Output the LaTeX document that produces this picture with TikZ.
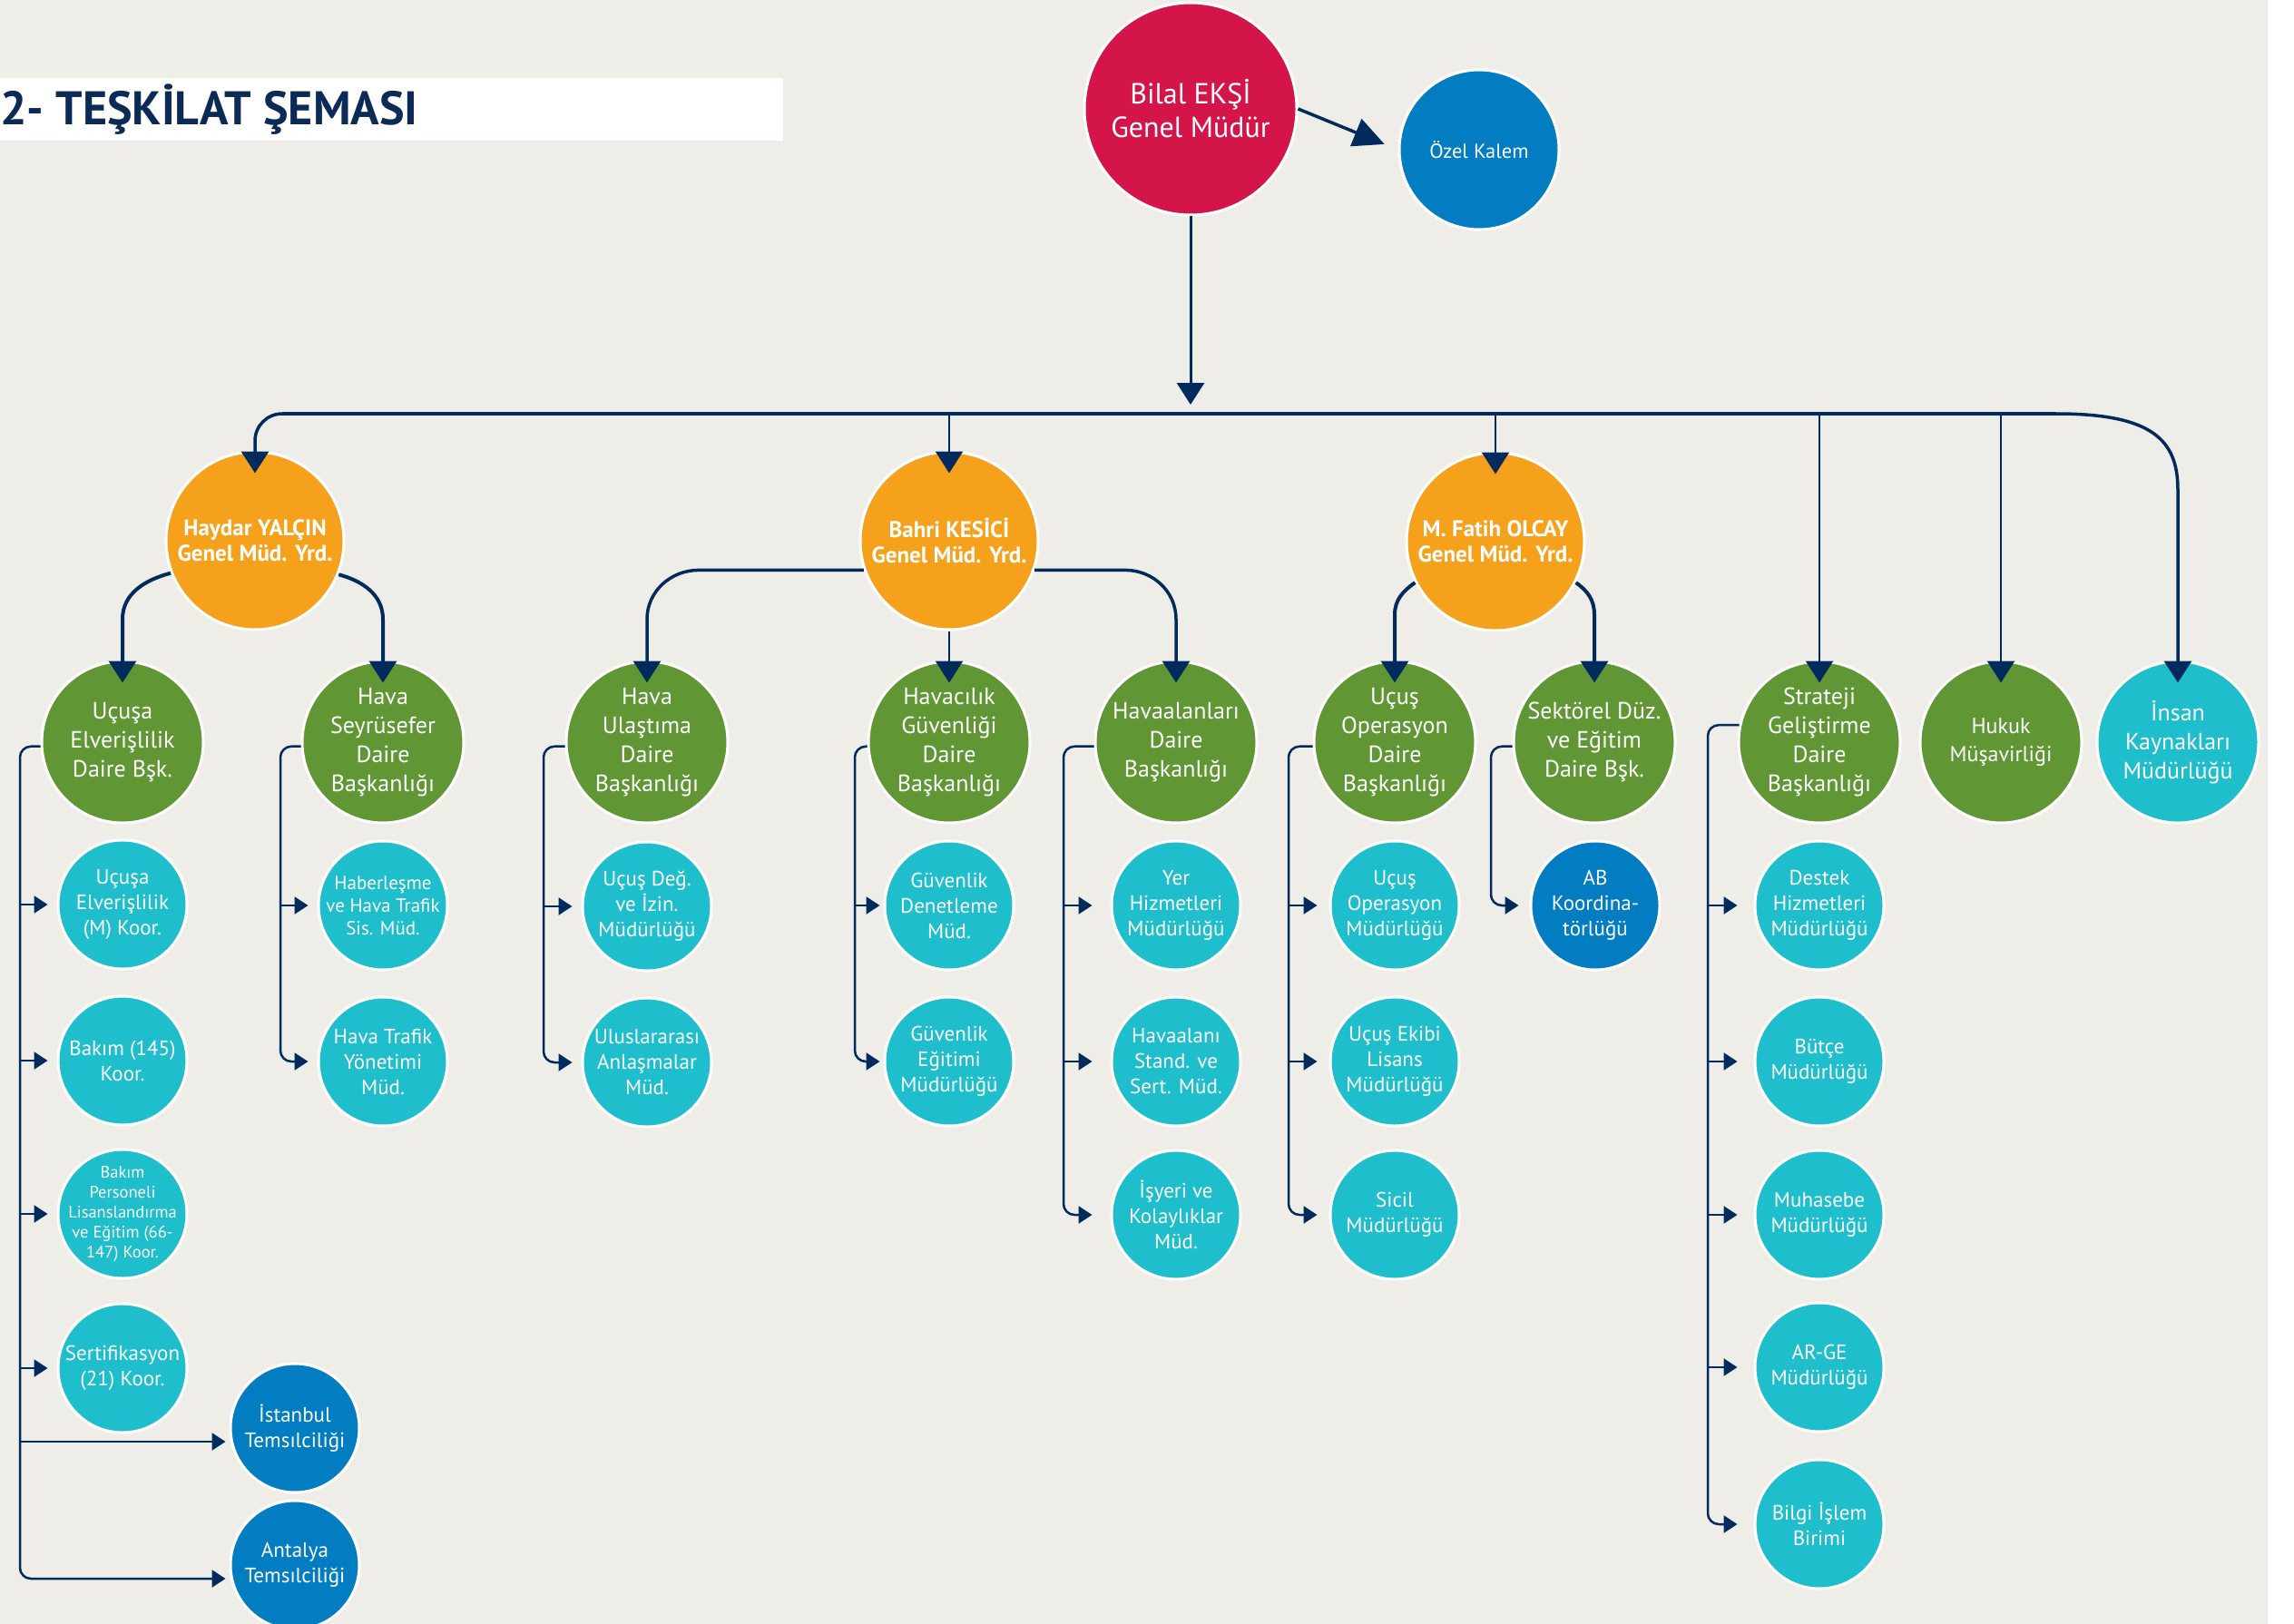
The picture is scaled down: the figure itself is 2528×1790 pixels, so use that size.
\documentclass[tikz,border=0pt]{standalone}
\usepackage{fontspec}
\setmainfont{PT Sans}
\usetikzlibrary{arrows.meta,calc}
\definecolor{bgc}{RGB}{238,237,232}
\definecolor{navy}{RGB}{0,43,92}
\definecolor{redc}{RGB}{211,21,74}
\definecolor{bluec}{RGB}{3,125,194}
\definecolor{orangec}{RGB}{245,161,28}
\definecolor{greenc}{RGB}{96,151,52}
\definecolor{cyanc}{RGB}{31,190,204}
\definecolor{titlec}{RGB}{12,42,86}
\newcommand\orgcirc[6]{%
  \node[#2] (#1) at (#3,#4) {};
  \node[#5] (#1-t) at (#1) {#6};}
\begin{document}
\begin{tikzpicture}[x=1pt,y=-1pt,
  circ/.style={circle, draw=white, line width=3pt, inner sep=0pt, minimum size=#1},
  sBig/.style={circ=234, fill=redc},
  sOzel/.style={circ=176, fill=bluec},
  sMid/.style={circ=196, fill=orangec},
  sDept/.style={circ=178, fill=greenc},
  sDeptC/.style={circ=178, fill=cyanc},
  sUnit/.style={circ=142, fill=cyanc},
  sUnitB/.style={circ=142, fill=bluec},
  txt/.style={text=white, align=center, inner sep=0pt},
  tBig/.style={txt, font=\fontsize{32}{37}\selectfont},
  tOzel/.style={txt, font=\fontsize{22.5}{28}\selectfont},
  tMid/.style={txt, font=\bfseries\fontsize{25}{28}\selectfont},
  tDept/.style={txt, font=\fontsize{26}{32}\selectfont},
  tDeptS/.style={txt, font=\fontsize{24}{31}\selectfont},
  tUnit/.style={txt, font=\fontsize{23}{28}\selectfont},
  tSmall/.style={txt, font=\fontsize{21}{25}\selectfont},
  tTiny/.style={txt, font=\fontsize{18.5}{22}\selectfont},
  barr/.style={draw=navy, line width=#1, -{Triangle[length=24pt,width=30pt]}},
  barr/.default=2.5pt,
  carr/.style={draw=navy, line width=2.5pt, -{Triangle[length=15pt,width=19pt]}},
  trunk/.style={carr, rounded corners=12pt}
]
\useasboundingbox (0,0) rectangle (2528,1790);
\fill[white] (0,0) rectangle (2528,1790);
\fill[bgc] (0,0) rectangle (2499,1790);
\fill[white] (0,86) rectangle (863,155);
\node[anchor=base west, inner sep=0pt, text=titlec, font=\bfseries\fontsize{52}{52}\selectfont] (title) at (0,138) {2- TEŞKİLAT ŞEMASI};

% top
\orgcirc{bg}{sBig}{1312}{120}{tBig}{Bilal EKŞİ\\Genel Müdür}
\orgcirc{oz}{sOzel}{1630}{165}{tOzel}{Özel Kalem}
% deputies
\orgcirc{hy}{sMid}{281}{596}{tMid}{Haydar YALÇIN\\Genel Müd. Yrd.}
\orgcirc{bk}{sMid}{1046}{596}{tMid}{Bahri KESİCİ\\Genel Müd. Yrd.}
\orgcirc{fo}{sMid}{1648}{597}{tMid}{M. Fatih OLCAY\\Genel Müd. Yrd.}
% departments
\orgcirc{ue}{sDept}{135}{818}{tDept}{Uçuşa\\Elverişlilik\\Daire Bşk.}
\orgcirc{hs}{sDept}{422}{818}{tDept}{Hava\\Seyrüsefer\\Daire\\Başkanlığı}
\orgcirc{hu}{sDept}{713}{818}{tDept}{Hava\\Ulaştıma\\Daire\\Başkanlığı}
\orgcirc{hg}{sDept}{1046}{818}{tDept}{Havacılık\\Güvenliği\\Daire\\Başkanlığı}
\orgcirc{ha}{sDept}{1296}{818}{tDept}{Havaalanları\\Daire\\Başkanlığı}
\orgcirc{uo}{sDept}{1537}{818}{tDept}{Uçuş\\Operasyon\\Daire\\Başkanlığı}
\orgcirc{sd}{sDept}{1757}{818}{tDept}{Sektörel Düz.\\ve Eğitim\\Daire Bşk.}
\orgcirc{sg}{sDept}{2005}{818}{tDept}{Strateji\\Geliştirme\\Daire\\Başkanlığı}
\orgcirc{hk}{sDept}{2205}{818}{tDeptS}{Hukuk\\Müşavirliği}
\orgcirc{ik}{sDeptC}{2400}{818}{tDept}{İnsan\\Kaynakları\\Müdürlüğü}
% column A
\orgcirc{a1}{sUnit}{135}{997}{tUnit}{Uçuşa\\Elverişlilik\\(M) Koor.}
\orgcirc{a2}{sUnit}{135}{1169}{tUnit}{Bakım (145)\\Koor.}
\orgcirc{a3}{sUnit}{135}{1338}{tTiny}{Bakım\\Personeli\\Lisanslandırma\\ve Eğitim (66-\\147) Koor.}
\orgcirc{a4}{sUnit}{135}{1508}{tUnit}{Sertifikasyon\\(21) Koor.}
\orgcirc{ist}{sUnitB}{325}{1574}{tUnit}{İstanbul\\Temsılciliği}
\orgcirc{an}{sUnitB}{325}{1725}{tUnit}{Antalya\\Temsılciliği}
% column B
\orgcirc{b1}{sUnit}{422}{998}{tSmall}{Haberleşme\\ve Hava Trafik\\Sis. Müd.}
\orgcirc{b2}{sUnit}{422}{1170}{tUnit}{Hava Trafik\\Yönetimi\\Müd.}
% column C
\orgcirc{c1}{sUnit}{713}{999}{tUnit}{Uçuş Değ.\\ve İzin.\\Müdürlüğü}
\orgcirc{c2}{sUnit}{713}{1171}{tUnit}{Uluslararası\\Anlaşmalar\\Müd.}
% column D
\orgcirc{d1}{sUnit}{1046}{998}{tUnit}{Güvenlik\\Denetleme\\Müd.}
\orgcirc{d2}{sUnit}{1046}{1170}{tUnit}{Güvenlik\\Eğitimi\\Müdürlüğü}
% column E
\orgcirc{e1}{sUnit}{1296}{998}{tUnit}{Yer\\Hizmetleri\\Müdürlüğü}
\orgcirc{e2}{sUnit}{1296}{1170}{tUnit}{Havaalanı\\Stand. ve\\Sert. Müd.}
\orgcirc{e3}{sUnit}{1296}{1339}{tUnit}{İşyeri ve\\Kolaylıklar\\Müd.}
% column F
\orgcirc{f1}{sUnit}{1537}{998}{tUnit}{Uçuş\\Operasyon\\Müdürlüğü}
\orgcirc{f2}{sUnit}{1537}{1170}{tUnit}{Uçuş Ekibi\\Lisans\\Müdürlüğü}
\orgcirc{f3}{sUnit}{1537}{1339}{tUnit}{Sicil\\Müdürlüğü}
% column G
\orgcirc{g1}{sUnitB}{1758}{998}{tUnit}{AB\\Koordina-\\törlüğü}
% column H
\orgcirc{h1}{sUnit}{2005}{998}{tUnit}{Destek\\Hizmetleri\\Müdürlüğü}
\orgcirc{h2}{sUnit}{2005}{1170}{tUnit}{Bütçe\\Müdürlüğü}
\orgcirc{h3}{sUnit}{2005}{1339}{tUnit}{Muhasebe\\Müdürlüğü}
\orgcirc{h4}{sUnit}{2005}{1507}{tUnit}{AR-GE\\Müdürlüğü}
\orgcirc{h5}{sUnit}{2005}{1680}{tUnit}{Bilgi İşlem\\Birimi}

% ---------- connectors ----------
\coordinate (bus) at (1312,456);
\coordinate (busl) at (311,456);
\coordinate (busr) at (2266,456);
\draw[barr=3.5pt, -{Triangle[length=34pt,width=32pt]}, shorten >=16pt] (bg.east) -- (oz.west);
\draw[barr=3pt] (bg.south) -- ([yshift=10pt]bus);
\draw[navy, line width=4.5pt] (busl) -- (busr);
\draw[barr=3.5pt] (busl) to[out=180,in=90] (281,486) -- ($(hy.north)+(0,25)$);
\draw[barr=3.5pt] (busr) .. controls (2372,456) and (2400,485) .. (2400,540) -- ($(ik.north)+(0,25)$);
\draw[barr] (bus -| bk) -- ($(bk.north)+(0,25)$);
\draw[barr] (bus -| fo) -- ($(fo.north)+(0,25)$);
\draw[barr] (bus -| sg) -- ($(sg.north)+(0,25)$);
\draw[barr] (bus -| hk) -- ($(hk.north)+(0,25)$);
% deputies to departments
\draw[barr=4pt] (hy.201) to[out=195,in=90] ($(ue.north)+(0,-45)$) -- ($(ue.north)+(0,25)$);
\draw[barr=4pt] (hy.338) to[out=-15,in=90] ($(hs.north)+(0,-45)$) -- ($(hs.north)+(0,25)$);
\draw[barr=3.5pt] (bk.199) -- (bk.199 -| 770,0) to[out=180,in=90] ($(hu.north)+(0,-45)$) -- ($(hu.north)+(0,25)$);
\draw[barr=3.5pt] (bk.-19) -- (bk.-19 -| 1240,0) to[out=0,in=90] ($(ha.north)+(0,-45)$) -- ($(ha.north)+(0,25)$);
\draw[barr] (bk.south) -- ($(hg.north)+(0,25)$);
\draw[barr=4pt] (fo.207) to[out=215,in=90] ($(uo.north)+(0,-50)$) -- ($(uo.north)+(0,25)$);
\draw[barr=4pt] (fo.333) to[out=-35,in=90] ($(sd.north)+(0,-50)$) -- ($(sd.north)+(0,25)$);

% trunks
\coordinate (ta) at (22,823);
\coordinate (tb) at (309,823);
\coordinate (tc) at (599,823);
\coordinate (td) at (942,823);
\coordinate (te) at (1172,823);
\coordinate (tf) at (1420,823);
\coordinate (tg) at (1643,823);
\coordinate (th) at (1882,800);
% column A
\draw[trunk] (ue.183) -| ($(ta |- an)+(0,15)$) -- ($(an.west)+(-4,15)$);
\draw[carr] (ta |- a1) -- ($(a1.west)+(-10,0)$);
\draw[carr] (ta |- a2) -- ($(a2.west)+(-10,0)$);
\draw[carr] (ta |- a3) -- ($(a3.west)+(-10,0)$);
\draw[carr] (ta |- a4) -- ($(a4.west)+(-10,0)$);
\draw[carr] ($(ta |- ist)+(0,15)$) -- ($(ist.west)+(-4,15)$);
% column B
\draw[trunk] (hs.183) -| (tb |- b2) -- ($(b2.west)+(-10,0)$);
\draw[carr] (tb |- b1) -- ($(b1.west)+(-10,0)$);
% column C
\draw[trunk] (hu.183) -| (tc |- c2) -- ($(c2.west)+(-10,0)$);
\draw[carr] (tc |- c1) -- ($(c1.west)+(-10,0)$);
% column D
\draw[trunk] (hg.183) -| (td |- d2) -- ($(d2.west)+(-4,0)$);
\draw[carr] (td |- d1) -- ($(d1.west)+(-4,0)$);
% column E
\draw[trunk] (ha.183) -| (te |- e3) -- ($(e3.west)+(-20,0)$);
\draw[carr] (te |- e1) -- ($(e1.west)+(-20,0)$);
\draw[carr] (te |- e2) -- ($(e2.west)+(-20,0)$);
% column F
\draw[trunk] (uo.183) -| (tf |- f3) -- ($(f3.west)+(-13,0)$);
\draw[carr] (tf |- f1) -- ($(f1.west)+(-13,0)$);
\draw[carr] (tf |- f2) -- ($(f2.west)+(-13,0)$);
% column G
\draw[trunk] (sd.183) -| (tg |- g1) -- ($(g1.west)+(-12,0)$);
% column H
\draw[trunk] (sg.168) -| (th |- h5) -- ($(h5.west)+(-18,0)$);
\draw[carr] (th |- h1) -- ($(h1.west)+(-18,0)$);
\draw[carr] (th |- h2) -- ($(h2.west)+(-18,0)$);
\draw[carr] (th |- h3) -- ($(h3.west)+(-18,0)$);
\draw[carr] (th |- h4) -- ($(h4.west)+(-18,0)$);
\end{tikzpicture}
\end{document}
